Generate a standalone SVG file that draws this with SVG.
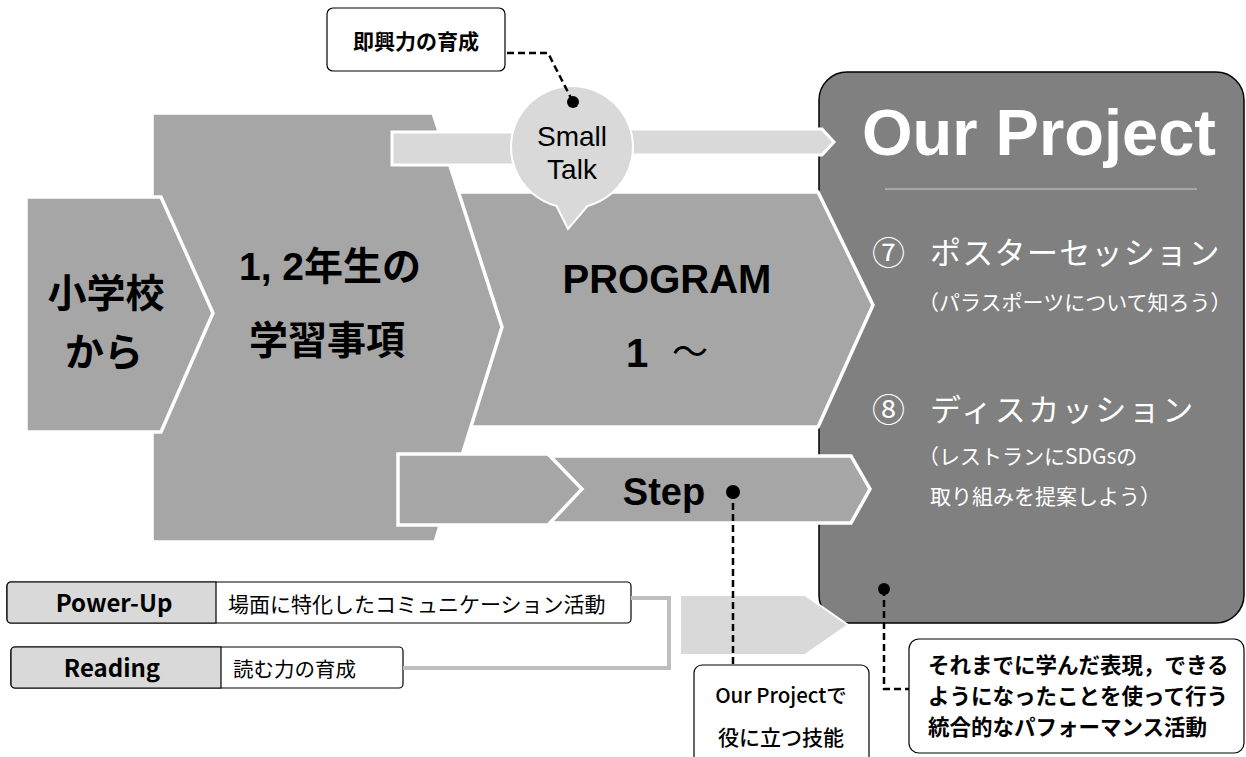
<svg xmlns="http://www.w3.org/2000/svg" width="1246" height="757" viewBox="0 0 1246 757">
<style>
.mid{fill:#a6a6a6;stroke:#ffffff;stroke-width:3.5;stroke-linejoin:miter}
.light{fill:#d9d9d9;stroke:#ffffff;stroke-width:3;stroke-linejoin:miter}
.box{fill:#ffffff;stroke:#000000;stroke-width:1.2}
.dash{fill:none;stroke:#000000;stroke-width:2.5;stroke-dasharray:7 4}
.jp{font-family:"Noto Sans CJK JP","Noto Sans",sans-serif}
.lat{font-family:"Liberation Sans","Noto Sans CJK JP",Arial,sans-serif}
.b{font-weight:bold}
.w{fill:#ffffff}
.k{fill:#000000}
.c{text-anchor:middle}
</style>

<g id="our-project">
  <rect x="819" y="72" width="425" height="551" rx="28" fill="#808080" stroke="#000000" stroke-width="1.5"/>
  <text class="lat b w c" x="1039" y="155" font-size="65">Our Project</text>
  <line x1="885" y1="189" x2="1197" y2="189" stroke="#cfcfcf" stroke-width="1.2"/>
  <text class="jp w" x="872" y="265" font-size="33">⑦</text>
  <text class="jp w" x="930" y="264" font-size="31" letter-spacing="1.3">ポスターセッション</text>
  <text class="jp w" x="918" y="310" font-size="21">（パラスポーツについて知ろう）</text>
  <text class="jp w" x="872" y="422" font-size="33">⑧</text>
  <text class="jp w" x="930" y="421" font-size="31" letter-spacing="2.5">ディスカッション</text>
  <text class="jp w" x="918" y="464" font-size="21">（レストランにSDGsの</text>
  <text class="jp w" x="930" y="504" font-size="21">取り組みを提案しよう）</text>
</g>

<g id="program">
  <polygon class="mid" points="440,192 818,192 873,305 818,427 440,427"/>
  <text class="lat b k c" x="667" y="293" font-size="40">PROGRAM</text>
  <text class="lat b k" x="626" y="367" font-size="40">1</text>
  <text class="jp k c" x="690" y="365" font-size="36">～</text>
</g>

<g id="grade12">
  <polygon class="mid" points="152,113 433,113 502,327 435,542 152,542"/>
  <text class="lat b k c" x="330" y="280" font-size="39">1, 2年生の</text>
  <text class="jp b k c" x="327" y="354" font-size="39">学習事項</text>
</g>

<g id="elementary">
  <polygon class="mid" points="26,197 161,197 213,313 161,432 26,432"/>
  <text class="jp b k c" x="106" y="307" font-size="39">小学校</text>
  <text class="jp b k c" x="104" y="366" font-size="39">から</text>
</g>

<g id="step">
  <polygon class="mid" points="548,456 851,456 870,489 851,523 548,523"/>
  <polygon class="mid" points="398,454 548,454 582,489 548,525 398,525"/>
  <text class="lat b k c" x="664" y="505" font-size="38">Step</text>
</g>

<g id="small-talk-bars">
  <polygon class="light" points="392,132 517,132 524,148.5 517,165 392,165"/>
  <polygon class="light" points="620,129 822,129 834,142 822,155 620,155"/>
</g>

<g id="small-talk">
  <path d="M556.5 206 L568 229 L587.5 206 A61 61 0 1 0 556.5 206 Z" fill="#d9d9d9" stroke="#ffffff" stroke-width="2"/>
  <text class="lat k c" x="572" y="146" font-size="28">Small</text>
  <text class="lat k c" x="572" y="179" font-size="28">Talk</text>
</g>

<g id="skill-arrow">
  <polygon fill="#d9d9d9" stroke="#ffffff" stroke-width="2" points="680,595 805,595 848,625 805,655 680,655"/>
</g>

<g id="callout-improv">
  <rect class="box" x="327" y="8" width="178" height="63" rx="6"/>
  <text class="jp b k c" x="416" y="49" font-size="21">即興力の育成</text>
</g>

<g id="power-up">
  <rect class="box" x="7" y="582" width="624" height="41" rx="4"/>
  <path d="M216 582 L11 582 A4 4 0 0 0 7 586 L7 619 A4 4 0 0 0 11 623 L216 623 Z" fill="#d9d9d9" stroke="#000000" stroke-width="1.2"/>
  <text class="jp b k c" x="114" y="612" font-size="24">Power-Up</text>
  <text class="jp k" x="228" y="612" font-size="21">場面に特化したコミュニケーション活動</text>
</g>

<g id="reading">
  <rect class="box" x="11" y="647" width="392" height="41" rx="4"/>
  <path d="M221 647 L15 647 A4 4 0 0 0 11 651 L11 684 A4 4 0 0 0 15 688 L221 688 Z" fill="#d9d9d9" stroke="#000000" stroke-width="1.2"/>
  <text class="jp b k c" x="112" y="677" font-size="24">Reading</text>
  <text class="jp k" x="233" y="677" font-size="20.5">読む力の育成</text>
</g>

<g id="callout-skill">
  <rect class="box" x="694" y="665" width="175" height="110" rx="8"/>
  <text class="jp k c" x="781" y="703" font-size="20.5" font-weight="500">Our Projectで</text>
  <text class="jp k c" x="781" y="745" font-size="21" font-weight="500">役に立つ技能</text>
</g>

<g id="callout-performance">
  <rect class="box" x="909" y="639" width="335" height="114" rx="10"/>
  <text class="jp b k" x="928" y="673" font-size="21.5">それまでに学んだ表現，できる</text>
  <text class="jp b k" x="928" y="704" font-size="21.5">ようになったことを使って行う</text>
  <text class="jp b k" x="928" y="735" font-size="21.5">統合的なパフォーマンス活動</text>
</g>

<g id="connectors">
  <polyline points="631,598 669,598 669,668 403,668" fill="none" stroke="#bfbfbf" stroke-width="4"/>
  <polyline class="dash" points="507,53 548,53 573,102"/>
  <circle cx="573" cy="102" r="6" fill="#000000"/>
  <line class="dash" x1="733" y1="492" x2="733" y2="665"/>
  <circle cx="733" cy="492" r="7" fill="#000000"/>
  <polyline class="dash" points="884,589 884,689 909,689"/>
  <circle cx="884" cy="589" r="6" fill="#000000"/>
</g>
</svg>
